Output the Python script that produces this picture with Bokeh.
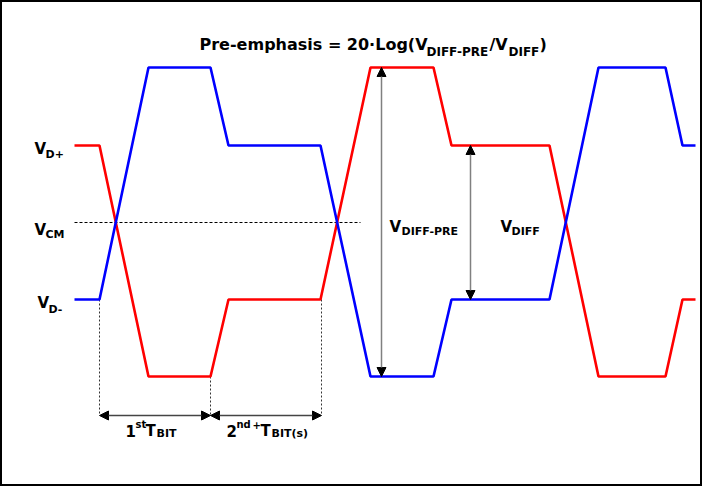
from bokeh.plotting import figure
from bokeh.models import Range1d, Arrow, NormalHead, ColumnDataSource
from bokeh.core.properties import value
from bokeh.embed import file_html
from bokeh.resources import INLINE

# ---- waveform data (time breakpoints in px-units, voltage levels in px-units) ----
t_pts = [82, 107, 156, 218, 236, 328, 378, 441, 459, 557, 606, 673, 690, 703]
red_lv = [153, 153, 384, 384, 307, 307, 75, 75, 153, 153, 384, 384, 307, 307]
blue_lv = [307, 307, 75, 75, 153, 153, 384, 384, 307, 307, 75, 75, 153, 153]

v_cm = 230
vcm_span = [82, 368]

# bit boundary markers
bit_x = [107, 218, 329]
bit_top = [307, 384, 307]
bit_dim_y = 423

# amplitude arrows
pre_x, pre_top, pre_bot = 389, 75, 384
diff_x, diff_top, diff_bot = 478, 153, 307

# ---- text pieces ----
title_main = ["Pre-emphasis = 20·Log(V", "/V", ")"]
title_main_x = [207, 497, 547]
title_sub = ["DIFF-PRE", "DIFF"]
title_sub_x = [434, 516]

lab_main = ["V", "V", "V", "V", "V", "1", "T", "2", "T"]
lab_main_x = [42, 42, 45, 397, 508, 133, 153, 234, 268]
lab_main_y = [156, 237, 310, 234, 234, 438, 438, 438, 438]
lab_sub = ["D+", "CM", "D-", "DIFF-PRE", "DIFF", "BIT", "BIT(s)"]
lab_sub_x = [53, 53, 56, 409, 519, 164, 279]
lab_sub_y = [162, 242, 317, 239, 239, 441, 441]
lab_sup = ["st", "nd", "+"]
lab_sup_x = [143, 244, 260]
lab_sup_y = [432, 432, 432]

FONT = value("DejaVu Sans")

p = figure(width=702, height=486, x_range=Range1d(8, 710), y_range=Range1d(494, 8),
           x_axis_type=None, y_axis_type=None, toolbar_location=None,
           output_backend="svg", min_border=0)
p.grid.visible = False
p.outline_line_color = "black"
p.outline_line_width = 3
p.background_fill_color = "white"
p.border_fill_color = "white"

# common mode dashed line
p.line(vcm_span, [v_cm, v_cm], line_color="black", line_width=1, line_dash="3 2")

# bit boundaries
for bx, bt in zip(bit_x, bit_top):
    p.line([bx, bx], [bt, bit_dim_y], line_color="#333333", line_width=1, line_dash="2 2")

# waveforms
p.line(t_pts, red_lv, line_color="#ff0000", line_width=2.6)
p.line(t_pts, blue_lv, line_color="#0000ff", line_width=2.6)

def head():
    return NormalHead(size=9, fill_color="black", line_color="black", line_width=1)

# bit-width dimension arrows
for a, b in zip(bit_x[:-1], bit_x[1:]):
    p.add_layout(Arrow(start=head(), end=head(), x_start=a, y_start=bit_dim_y,
                       x_end=b, y_end=bit_dim_y, line_color="#444444", line_width=1.5))

# amplitude arrows
p.add_layout(Arrow(start=head(), end=head(), x_start=pre_x, y_start=pre_top,
                   x_end=pre_x, y_end=pre_bot, line_color="#808080", line_width=1.5))
p.add_layout(Arrow(start=head(), end=head(), x_start=diff_x, y_start=diff_top,
                   x_end=diff_x, y_end=diff_bot, line_color="#808080", line_width=1.5))

def txt(xs, ys, ts, size):
    src = ColumnDataSource(dict(x=xs, y=ys, t=ts))
    p.text("x", "y", text="t", source=src, text_font=FONT, text_font_style="bold",
           text_font_size=size, text_color="black", text_align="left",
           text_baseline="alphabetic")

txt(title_main_x, [52] * len(title_main), title_main, "16px")
txt(title_sub_x, [59] * len(title_sub), title_sub, "12px")
txt(lab_main_x, lab_main_y, lab_main, "15px")
txt(lab_sub_x, lab_sub_y, lab_sub, "11px")
txt(lab_sup_x, lab_sup_y, lab_sup, "10px")

open("out.html", "w").write(file_html(p, INLINE))
